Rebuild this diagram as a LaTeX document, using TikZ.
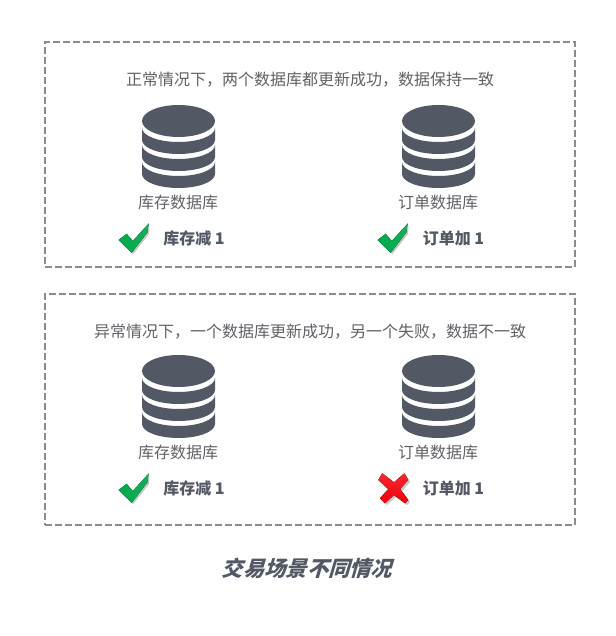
\documentclass[tikz,border=0pt]{standalone}
\usepackage{fontspec}
\setmainfont{Noto Sans CJK SC}
\newfontfamily\cjkslant[FakeSlant=0.3]{Noto Sans CJK SC}
\usetikzlibrary{positioning}
\definecolor{cSlate}{RGB}{83,89,100}
\definecolor{cText}{RGB}{96,98,102}
\definecolor{cFrame}{RGB}{140,140,140}
\definecolor{cCheck}{RGB}{0,168,75}
\definecolor{cCross}{RGB}{245,0,10}
\tikzset{
  dbicon/.pic={
    \fill[cSlate] (0,0) ellipse[x radius=36.5, y radius=16];
    \foreach \k in {0,1,2} {
      \fill[cSlate] (-36.5,-7-17*\k) arc[start angle=180, end angle=360, x radius=36.5, y radius=14]
        -- (36.5,-19-17*\k) arc[start angle=360, end angle=180, x radius=36.5, y radius=14] -- cycle;
    }
  },
  okicon/.pic={
    \fill[black!22] (-13,-3) -- (-6,2) -- (0,-6) -- (15.5,11) -- (15,4) -- (-0.5,-16) -- cycle;
    \fill[left color=cCheck, right color=cCheck!92!white] (-15.5,-2) -- (-7.3,4.2) -- (-1.3,-3) -- (14.8,14.5) -- (13.3,5.5) -- (-2.3,-14.8) -- cycle;
  },
  badicon/.pic={
    \fill[black!22] (-14,7) -- (-10,14) -- (2,5) -- (12,14) -- (16,7) -- (8,-2) -- (16,-13) -- (13,-16) -- (2,-8) -- (-7,-16) -- (-12,-11) -- (-4,-2) -- cycle;
    \fill[top color=cCross!85!white, bottom color=cCross] (-15.7,9) -- (-11.7,15.7) -- (0,6.7) -- (10.3,15.7) -- (14.3,9) -- (6,0) -- (14.3,-11) -- (11,-14.3) -- (0,-6) -- (-9,-14.3) -- (-14,-9.3) -- (-5.7,0) -- cycle;
  }
}
\begin{document}
\begin{tikzpicture}[x=1pt, y=1pt,
    frame/.style={draw=cFrame, line width=2pt, dash pattern=on 7pt off 3pt},
    note/.style={text=cText, font=\fontsize{16}{18}\selectfont, inner sep=0pt},
    dbname/.style={text=cText, font=\fontsize{16}{18}\selectfont, inner sep=0pt},
    result/.style={text=cSlate, font=\fontsize{16}{18}\selectfont\bfseries, inner sep=0pt}]
  \useasboundingbox (0,0) rectangle (615,636);
  \fill[white] (0,0) rectangle (615,636);
  % normal case
  \node[frame, minimum width=530pt, minimum height=225pt, inner sep=0pt] (upper) at (310,481.5) {};
  \node[note] (uppertext) at (310,556) {正常情况下，两个数据库都更新成功，数据保持一致};
  \pic at (178.5,515) {dbicon};
  \pic at (438.5,515) {dbicon};
  \node[dbname] (stockA) at (178,433.5) {库存数据库};
  \node[dbname] (orderA) at (438,433.5) {订单数据库};
  \pic at (134,398) {okicon};
  \pic at (393,398) {okicon};
  \node[result] (resA) at (194,398) {库存减 1};
  \node[result] (resB) at (453.5,398) {订单加 1};
  % failure case
  \node[frame, minimum width=530pt, minimum height=231pt, inner sep=0pt] (lower) at (310,226.5) {};
  \node[note] (lowertext) at (310,304) {异常情况下，一个数据库更新成功，另一个失败，数据不一致};
  \pic at (178.5,265) {dbicon};
  \pic at (438.5,265) {dbicon};
  \node[dbname] (stockB) at (178,183.5) {库存数据库};
  \node[dbname] (orderB) at (438,183.5) {订单数据库};
  \pic at (134,148) {okicon};
  \pic at (394,147) {badicon};
  \node[result] (resC) at (194,148) {库存减 1};
  \node[result] (resD) at (453.5,148) {订单加 1};
  \node[text=cSlate, inner sep=0pt, font=\cjkslant\fontsize{21.3}{24}\selectfont\bfseries] (caption) at (307,68) {交易场景不同情况};
\end{tikzpicture}
\end{document}
